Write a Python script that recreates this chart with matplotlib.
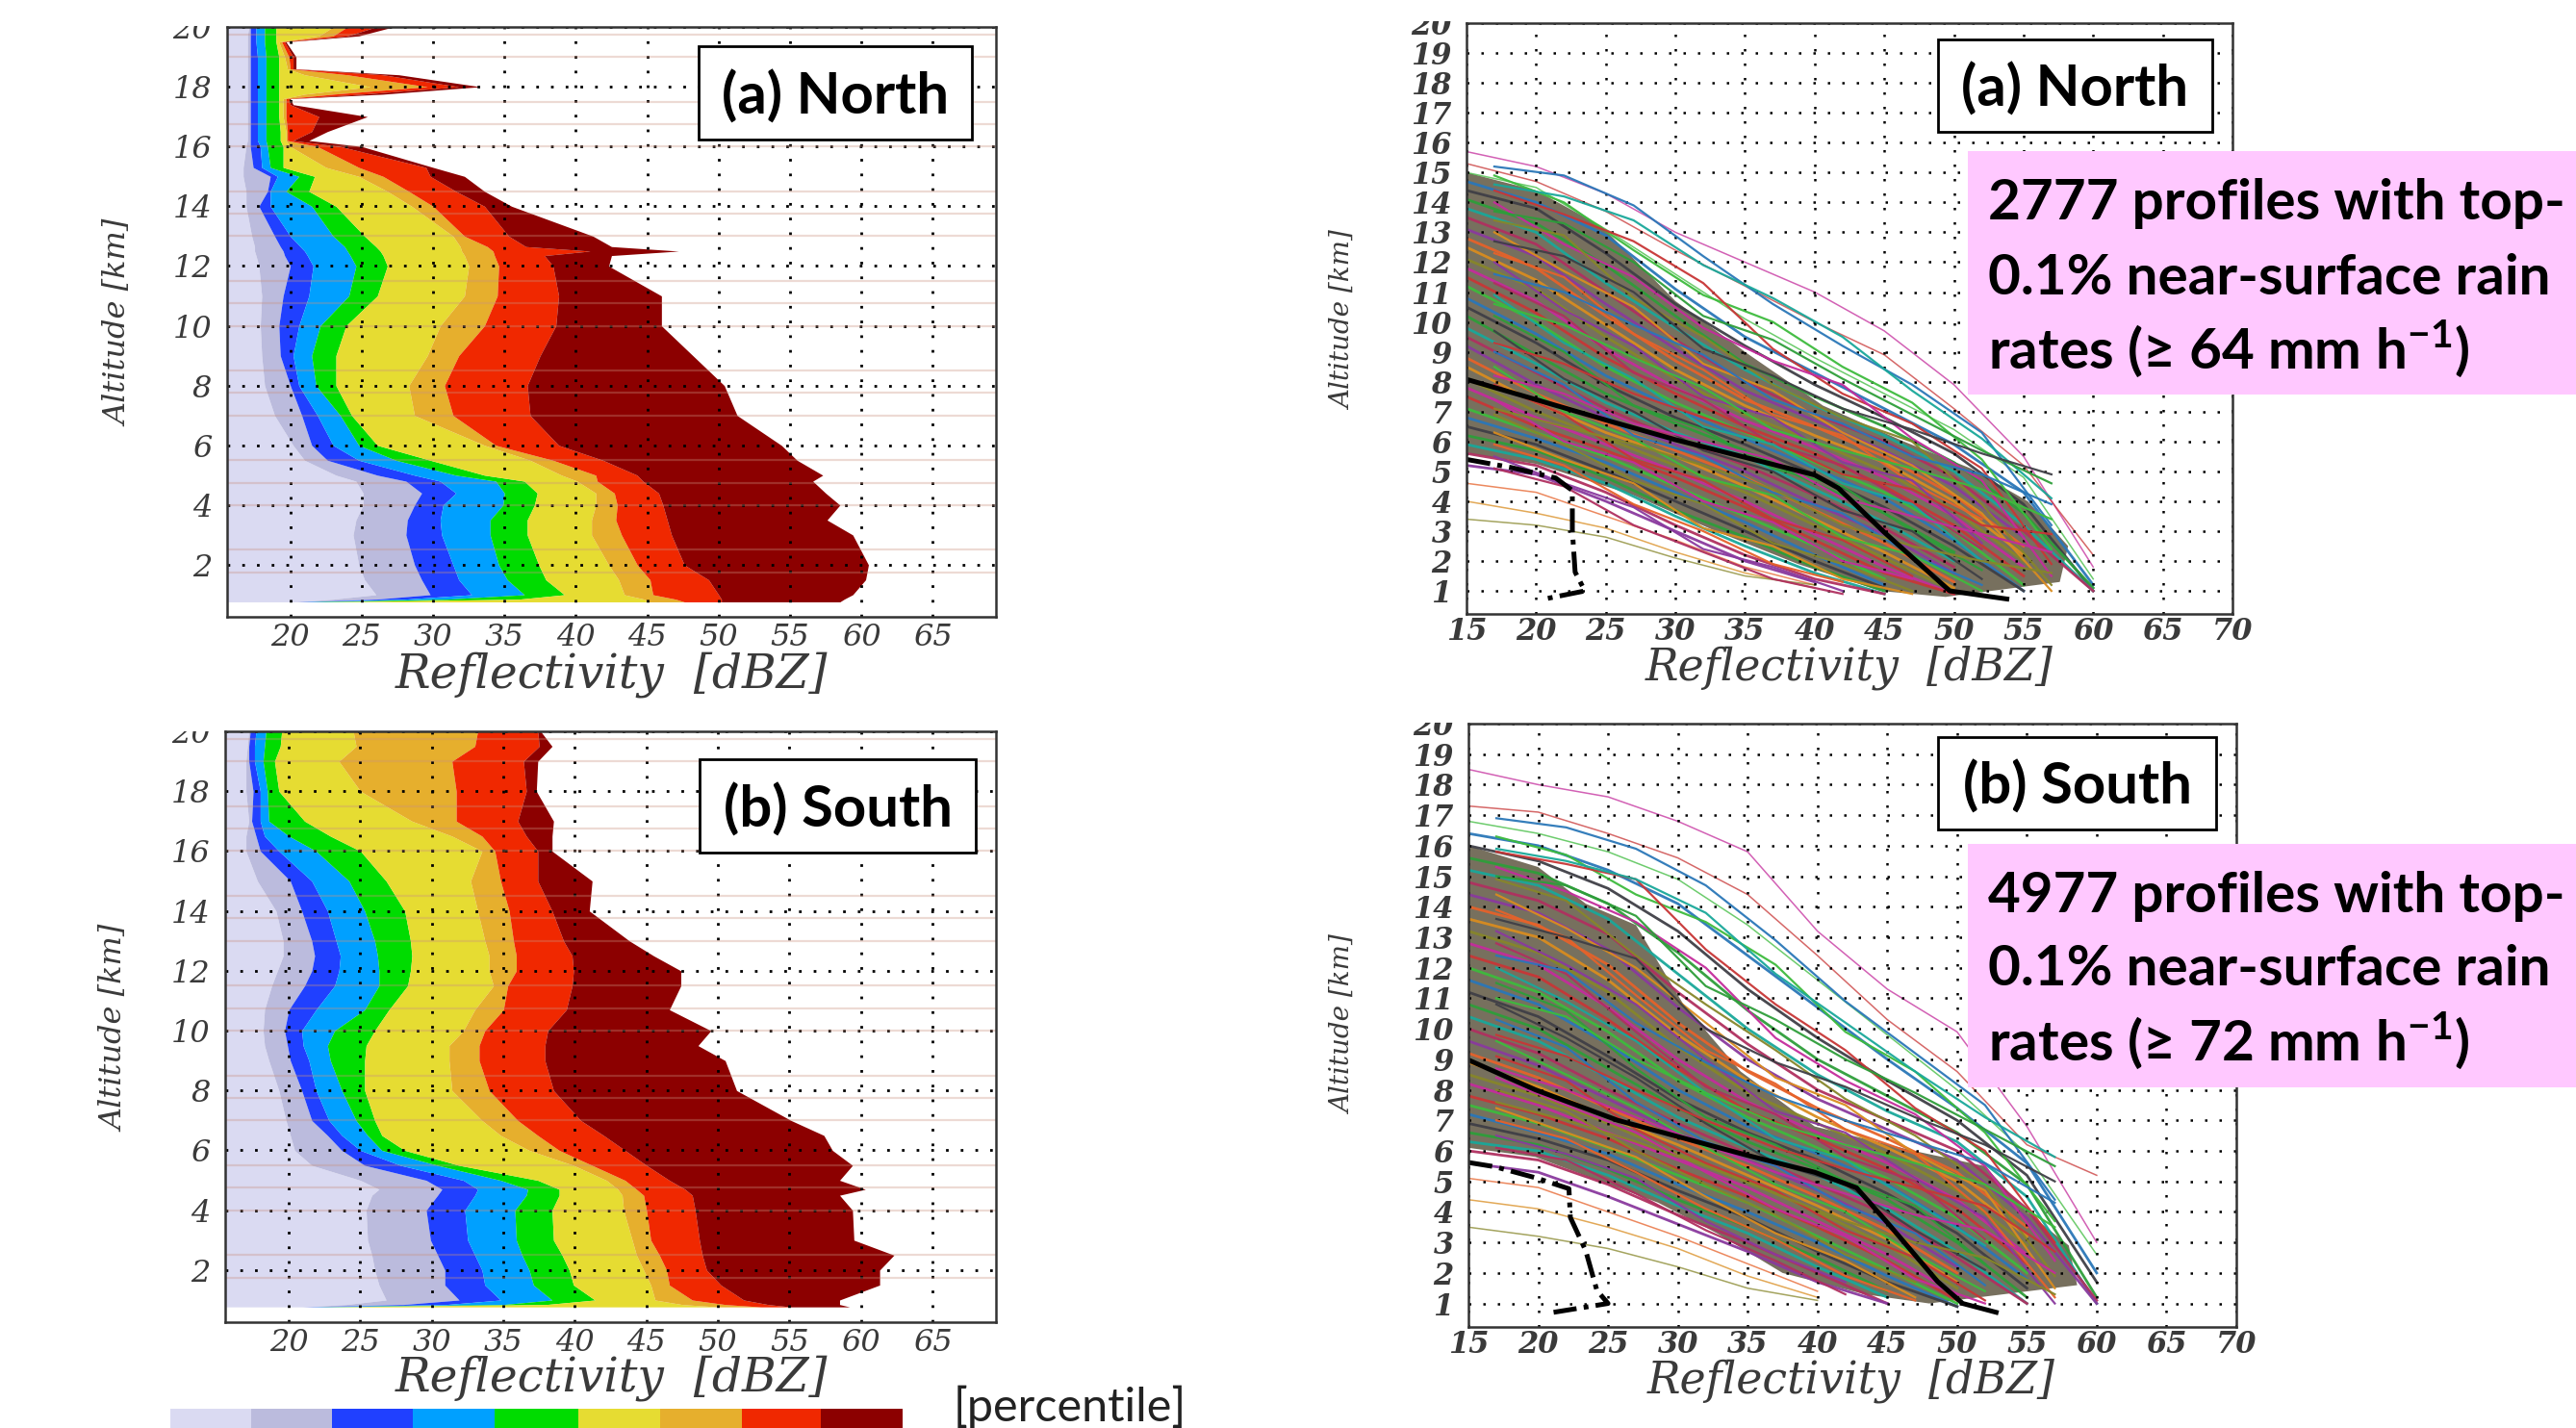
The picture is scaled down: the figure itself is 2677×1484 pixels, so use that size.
import numpy as np
import matplotlib
matplotlib.use("Agg")
import matplotlib.pyplot as plt
from matplotlib.patches import Rectangle

W, H = 2677, 1484
plt.rcParams['mathtext.fontset'] = 'custom'
plt.rcParams['mathtext.bf'] = 'Lato:bold'
plt.rcParams['mathtext.rm'] = 'Lato:bold'

percentile_colors = ['#DADAF2', '#BBBBDD', '#2040FF', '#00A0FF', '#00DC00',
                     '#E6DC32', '#E6AF2D', '#F02800', '#8C0000']

north_alt = [0.76,0.85,1,1.5,2,3,3.5,4,4.4,4.8,5,5.5,6,7,8,9,10,11,12,12.35,12.5,12.65,13,14,14.5,15,15.3,16,16.2,16.5,17,17.4,17.6,17.75,18,18.4,18.6,19,19.5,19.7,20]
north_b1 = [20.3,23,26,25.2,24.8,24.4,24.6,25.1,25.1,24.6,23.2,21,20.2,18.9,18.2,18,17.9,18,17.8,17.6,17.5,17.5,17.3,16.9,16.9,16.7,16.7,16.9,17,17,17,17,17,17,17,17,17,17,17,17,17.1]
north_b2 = [20.5,26,29.8,29.2,28.7,28.1,28.2,28.7,29.2,28.1,26.1,22.6,21.5,20.8,20,19.3,19.2,19.5,20,19.6,19.5,19.3,18.9,17.8,18.4,18.6,17.4,17.2,17.2,17.2,17.2,17.2,17.2,17.2,17.2,17.2,17.2,17.2,17.2,17.2,17.2]
north_b3 = [20.8,28,32.7,31.8,31.4,30.6,30.5,30.7,31.6,30.5,28.7,24.8,23,21.9,20.6,20.2,20.6,21.3,21.6,21.2,21,20.7,20,18.6,18.6,19.1,18,17.9,17.7,17.7,17.7,17.7,17.7,17.7,17.7,17.7,17.7,17.7,17.6,17.6,17.6]
north_b4 = [21.5,31,36.4,35.2,34.6,34,34,34.9,35,34.4,31.6,27.4,24.8,23.5,21.8,21.5,22.1,24.1,24.6,24.2,24,23.8,23,21.5,19.7,20.6,18.6,18.4,18.3,18.3,18.3,18.3,18.3,18.3,18.3,18.3,18.3,18.3,18.2,18.2,18.2]
north_b5 = [22.5,36,39.2,37.9,37.4,36.6,36.6,37.1,37.3,36.4,33.6,29.8,26.1,24.3,23.2,23.2,23.9,26.1,26.8,26.5,26.3,26,25.2,23.2,21.3,21.7,19.5,19.5,19.3,19.3,19.2,19.2,19.2,19.2,19.2,19.2,19.2,19.2,19,19,19]
north_b6 = [45,44.8,43.4,43,42.3,41.1,41.1,41.4,41.4,40.1,39,36.8,33.6,28.7,28.3,29.6,30.5,32.2,32.5,32.2,32,31.9,31.4,28.5,26.8,24.8,22.5,20,19.7,19.7,19.5,19.5,19.5,21,25.6,21,19.8,19.6,19.2,22,23]
north_b7 = [47.6,47,45.4,45.2,44.3,43.2,42.8,42.9,42.7,41.5,41.4,38.4,34.4,31.4,30.8,31.8,33.6,34.5,34.6,34.3,34.2,33.8,32.2,30,28.3,26.5,24.8,21.9,19.8,19.8,19.7,19.7,19.7,23,29.6,24,20,19.9,19.4,23,24]
north_b8 = [50.2,50.2,50,49.3,47.6,46.7,46.4,46.1,45.8,44.7,44.3,41.9,38.8,36.8,36.6,37.5,38.6,38.8,38.4,37.8,41,36.5,35.3,33.6,31.6,29.8,29.5,23.5,20.2,21.5,22,20,19.9,25,31.8,26.5,20.2,20.2,19.6,24,26]
north_b9 = [58.5,58.8,59.4,60.3,60.5,59.4,57.6,58.5,57.5,56.6,57.3,55.5,54.4,51.3,50.4,48.2,46,46,42.3,42.5,47.2,42.5,41.2,35.5,33.6,32.2,30,25,21.3,22.6,25.4,20.2,20,26.5,33.3,27.6,20.4,20.4,19.7,24.8,27.2]

south_alt = [0.77,0.85,1,1.5,2,2.5,3,4,4.5,4.7,5,5.5,6,6.5,7,8,9,9.5,10,10.7,11.5,12,12.5,13,14,15,16,16.5,17,18,19,19.5,20]
south_b1 = [20.9,24,26.8,26.3,26,25.8,25.5,25.4,25.8,26.3,25,21.6,20.4,20.1,19.8,19.3,18.6,18.3,18.2,18.3,18.8,19.2,19.6,19.6,19.1,17.8,17,17,17.2,17,17,17.1,17.2]
south_b2 = [21,28,31.9,30.9,30.9,30.4,29.9,29.6,30.4,30.7,29.6,25.3,23.7,22.7,21.6,20.9,20.1,19.9,19.7,20,21.1,21.6,21.8,21.6,20.9,20.1,18,17.7,17.4,17.5,17.2,17.2,17.3]
south_b3 = [21.4,31,34.8,33.7,33.5,33,32.5,32.3,33,33.2,32.2,27.8,25,23.7,22.8,21.9,21.4,21,20.9,21.9,23.2,23.5,23.6,23.3,22.7,21.6,19.3,18.3,18,18,17.6,17.6,17.7]
south_b4 = [22,35,38.4,37.1,36.8,36.3,35.9,35.8,36.6,36.7,34.8,30.4,26.5,25.5,24.7,23.7,22.9,22.7,23.2,25.3,26.3,26.3,26.2,26,25.3,24.2,21.9,20,18.6,18.5,18.2,18.3,18.4]
south_b5 = [22.5,38,41.4,39.9,39.6,39.1,38.5,38.4,38.9,38.9,37.4,31.9,28.1,26.5,26,25.3,25.3,25.4,26,27,28.3,28.5,28.6,28.5,28.1,26.8,25,22.9,21.1,19.3,19,19.4,19.5]
south_b6 = [50,47.5,45.6,45.3,44.8,44.3,44,43.4,43.3,43,42.2,39.9,36.8,34.8,33.5,31.4,31.2,31.2,32.2,33,34.3,34,34,33.7,33.2,32.7,33.5,31.4,28.6,25,23.5,24.7,24.5]
south_b7 = [53,50.5,48.2,46.6,46.4,45.9,45.3,45,44.8,44.3,43.5,41.2,38.9,37.4,36,34,33.3,33.3,33.7,35,35.3,35.9,35.9,35.7,35.4,34.8,34.4,33.5,31.7,31.7,31.4,33,33.2]
south_b8 = [55.1,53.5,51.8,50.2,49.2,48.9,48.7,48.4,48.2,47.7,46.6,45,43.5,42,40.4,38.5,37.9,37.9,38.1,39.4,39.8,39.9,39.8,39.2,38.4,37.4,37.4,36.6,36,36.6,36.4,37.5,37.4]
south_b9 = [59.2,58.5,58.5,61.3,61.3,62.3,59.5,59.4,58.5,60.3,58.5,59.4,58,57.4,55.1,51.3,50.5,48.6,49.5,46.6,47.4,47.4,45.5,43.8,41,41.2,38.4,38.4,38.5,37.3,37.4,38.4,37.6]

# altitudes of the faint horizontal streaks
streak_alt = [1.75,2.5,4,4.75,5.5,7,7.75,8.5,10,10.75,11.5,13,13.75,14.5,16,16.75,17.5,19,19.75]

profile_dbz = [15,20,25,30,35,40,45,50,55,60]
north_profiles = [
[15.7,15.2,14.3,13.0,12.0,11.0,9.7,7.9,5.5,1.8],
[15.3,14.7,13.7,12.4,11.2,10.0,8.9,7.1,5.2,2.2],
[15.0,14.5,13.1,11.6,10.1,8.8,7.6,6.4,4.8,1.4],
[14.7,14.0,12.9,11.1,9.5,8.3,7.1,5.9,4.3,1.2],
[14.4,13.8,12.3,10.6,9.2,7.9,6.8,5.6,3.9,1.0],
[14.1,13.3,11.9,10.2,8.6,7.5,6.5,5.3,3.6,1.1],
[13.8,13.0,11.3,9.8,8.4,7.2,6.2,5.0,3.2,1.0],
[13.5,12.6,11.0,9.4,8.0,6.9,6.0,4.8,3.0,1.0],
[13.1,12.2,10.6,9.1,7.7,6.7,5.7,4.5,2.8],
[12.8,11.8,10.2,8.7,7.4,6.5,5.5,4.2,2.5],
[12.5,11.4,9.9,8.4,7.2,6.2,5.3,4.0,2.2],
[12.1,11.1,9.5,8.1,6.9,6.0,5.0,3.7,2.0],
[11.8,10.7,9.1,7.8,6.7,5.8,4.8,3.5,1.8],
[11.5,10.3,8.8,7.6,6.5,5.6,4.5,3.2,1.5],
[11.2,10.0,8.5,7.3,6.3,5.3,4.3,3.0,1.2],
[10.8,9.6,8.2,7.1,6.1,5.1,4.1,2.7,1.0],
[10.5,9.3,7.9,6.8,5.9,4.9,3.8,2.5,1.0],
[10.2,8.9,7.6,6.6,5.7,4.6,3.6,2.3],
[9.8,8.6,7.3,6.3,5.5,4.4,3.3,2.0],
[9.5,8.3,7.1,6.1,5.2,4.2,3.1,1.8],
[9.2,7.9,6.8,5.9,5.0,3.9,2.9,1.6],
[8.8,7.6,6.6,5.7,4.8,3.7,2.6,1.3],
[8.5,7.3,6.3,5.5,4.5,3.4,2.3,1.1],
[8.1,7.0,6.1,5.2,4.3,3.2,2.1,1.0],
[7.8,6.8,5.9,5.0,4.0,2.9,1.8,0.9],
[7.5,6.5,5.7,4.8,3.8,2.7,1.6,0.9],
[7.1,6.3,5.5,4.5,3.5,2.5,1.4],
[6.8,6.1,5.3,4.3,3.3,2.2,1.2],
[6.5,5.9,5.0,4.0,3.0,2.0,1.1],
[6.2,5.7,4.8,3.7,2.8,1.8,1.0],
[5.9,5.4,4.6,3.5,2.5,1.6,0.9],
[5.6,5.2,4.3,3.2,2.2,1.4,0.9],
[5.2,4.9,4.0,3.0,2.0,1.3],
[4.6,4.3,3.5,2.7,1.8,1.2],
[4.0,3.6,3.1,2.3,1.6,1.1],
[3.4,3.2,2.8,2.1,1.5,1.2],
]
south_profiles = [
[18.5,18.0,17.6,16.8,15.8,13.2,11.3,9.9,6.8,3.0],
[17.3,17.1,16.4,15.6,14.4,12.4,10.3,8.6,6.2,5.2],
[16.8,16.4,15.8,14.9,13.4,11.6,9.8,8.0,5.9,2.6],
[16.4,16.0,15.2,14.1,12.4,10.7,9.0,7.4,5.6,2.0],
[16.0,15.5,14.6,13.2,11.3,9.7,8.3,7.0,5.2,1.7],
[15.6,15.1,14.1,12.5,10.6,9.0,7.8,6.6,4.9,1.2],
[15.2,14.7,13.6,11.8,10.0,8.5,7.3,6.3,4.5,1.0],
[14.8,14.2,13.1,11.2,9.5,8.0,7.0,6.0,4.1,1.1],
[14.4,13.8,12.6,10.7,9.0,7.7,6.7,5.7,3.8,1.0],
[14.0,13.4,12.1,10.2,8.6,7.4,6.4,5.3,3.5],
[13.6,13.0,11.6,9.8,8.3,7.1,6.1,5.0,3.2],
[13.2,12.5,11.2,9.4,7.9,6.9,5.9,4.7,2.9],
[12.8,12.1,10.7,9.0,7.6,6.6,5.6,4.4,2.6],
[12.4,11.7,10.3,8.7,7.3,6.4,5.4,4.1,2.3],
[12.0,11.2,9.9,8.3,7.1,6.1,5.1,3.8,2.0],
[11.6,10.8,9.5,8.0,6.8,5.9,4.9,3.5,1.8],
[11.2,10.4,9.1,7.7,6.6,5.7,4.6,3.3,1.5],
[10.8,10.0,8.7,7.4,6.3,5.4,4.4,3.0,1.2],
[10.4,9.6,8.4,7.1,6.1,5.2,4.1,2.7,1.0],
[10.0,9.2,8.0,6.9,5.9,4.9,3.9,2.5,1.0],
[9.6,8.8,7.7,6.6,5.7,4.7,3.6,2.2],
[9.2,8.4,7.4,6.4,5.5,4.5,3.4,2.0],
[8.9,8.1,7.1,6.2,5.2,4.2,3.1,1.7],
[8.5,7.8,6.9,5.9,5.0,4.0,2.9,1.5],
[8.2,7.5,6.6,5.7,4.8,3.7,2.6,1.3],
[7.8,7.2,6.4,5.4,4.5,3.5,2.4,1.1],
[7.5,6.9,6.1,5.2,4.3,3.2,2.1,1.0],
[7.2,6.6,5.9,4.9,4.0,3.0,1.9,0.9],
[6.9,6.4,5.7,4.7,3.8,2.7,1.7,0.9],
[6.6,6.2,5.4,4.4,3.5,2.5,1.4],
[6.3,6.0,5.2,4.2,3.3,2.2,1.2],
[6.0,5.7,4.9,3.9,3.0,2.0,1.0],
[5.6,5.3,4.5,3.6,2.7,1.7,1.0],
[5.1,4.8,4.0,3.2,2.3,1.4],
[4.4,4.1,3.5,2.8,1.9,1.2],
[3.5,3.2,2.8,2.2,1.5,1.1],
]
crossing_dbz = [17,22,27,32,37,42,47,52,57]
north_crossing = [
[15.2,14.9,13.9,12.2,10.6,9.2,7.9,6.3,3.2],
[14.9,14.0,12.4,10.9,10.0,8.5,7.3,5.4,2.4],
[14.4,13.6,12.7,11.3,9.1,7.6,6.6,5.1,1.9],
[14.0,12.6,11.5,9.8,8.7,7.9,6.1,4.7,1.5],
[13.4,12.9,10.8,9.5,7.9,6.8,6.0,3.9,1.2],
[13.0,11.7,10.5,8.6,7.7,6.3,5.2,3.6,1.0],
[12.3,11.5,9.6,8.4,6.9,6.2,4.6,3.4],
[12.0,10.4,9.2,7.5,6.8,5.3,4.7,2.6],
[11.3,10.2,8.3,7.4,5.9,5.2,3.9,2.4],
[10.9,9.3,8.1,6.5,5.9,4.6,3.9,2.0],
[10.2,9.0,7.2,6.4,5.1,4.5,3.0,1.7],
[9.7,8.1,7.0,5.7,5.0,3.7,3.0,1.4],
[9.0,7.9,6.2,5.5,4.3,3.6,2.2,1.2],
[8.5,7.0,6.1,4.8,4.2,2.8,2.2,1.0],
[7.9,6.9,5.4,4.7,3.4,2.7,1.5],
[7.4,6.0,5.3,4.0,3.3,2.0,1.4],
[6.9,5.9,4.7,3.9,2.6,1.9,1.0],
[6.3,5.4,4.6,3.1,2.5,1.4,0.9],
[5.9,5.2,3.9,3.0,1.9,1.3],
[5.5,4.6,3.8,2.4,1.8,1.0],
[5.1,4.5,3.2,2.3,1.4,0.9],
[14.6,14.2,13.4,11.9,10.8,9.5,7.7,6.1,4.1],
[13.7,13.3,12.0,10.2,9.4,8.1,6.9,5.7,4.6],
[12.7,12.2,11.0,9.1,8.2,7.1,6.4,5.6,4.9],
[11.6,11.0,9.9,8.9,7.4,6.6,5.5,4.9,3.9],
[10.6,9.9,8.8,7.8,6.4,5.7,5.1,4.4,3.4],
[9.3,8.6,7.6,6.8,6.0,4.9,4.4,3.2,2.9],
[8.2,7.6,6.6,6.0,5.4,4.1,3.5,2.9,2.3],
[7.1,6.5,5.9,5.2,4.4,3.2,2.5,2.0,1.6],
]
south_crossing = [
[16.9,16.6,15.9,14.7,12.9,10.9,9.2,7.5,4.4],
[16.3,15.7,14.4,13.5,12.1,9.9,8.6,6.6,3.7],
[15.8,15.4,14.9,12.6,10.8,9.3,7.4,6.0,3.0],
[15.3,14.5,13.5,12.0,9.7,8.3,7.2,5.5,2.4],
[14.9,14.2,12.4,10.8,9.3,7.7,6.5,4.9,1.9],
[14.4,13.3,12.0,10.2,8.4,7.5,5.9,4.7,1.5],
[13.9,13.0,11.1,9.3,8.2,6.7,5.9,4.0,1.2],
[13.2,12.1,10.8,9.0,7.3,6.6,5.1,3.8,1.0],
[12.8,11.8,9.9,8.1,7.2,5.8,5.0,3.1],
[12.0,10.9,9.6,7.9,6.4,5.7,4.3,2.9],
[11.5,10.6,8.7,7.1,6.2,5.0,4.2,2.3],
[10.8,9.7,8.4,6.9,5.6,4.9,3.4,2.1],
[10.3,9.4,7.6,6.3,5.5,4.2,3.3,1.6],
[9.6,8.5,7.4,6.1,4.9,4.0,2.6,1.4],
[9.1,8.3,6.7,5.6,4.7,3.4,2.5,1.1],
[8.4,7.5,6.6,5.3,4.1,3.2,1.8,1.0],
[8.0,7.3,6.0,4.9,3.9,2.6,1.7],
[7.4,6.6,5.8,4.5,3.3,2.4,1.2],
[7.0,6.4,5.3,4.1,3.1,1.9,1.1],
[6.5,5.9,5.1,3.7,2.6,1.7],
[6.1,5.7,4.6,3.4,2.4,1.3],
[15.9,15.5,14.9,13.8,11.8,10.2,8.6,7.1,5.8],
[15.0,14.7,13.7,11.4,10.3,9.0,7.9,6.7,5.5],
[13.6,13.0,12.3,10.0,8.9,8.1,7.1,6.2,5.0],
[12.4,11.9,10.2,8.9,7.8,7.0,6.3,5.6,4.3],
[11.0,10.4,9.0,7.9,6.9,6.2,5.6,4.9,3.5],
[9.8,9.1,8.0,7.0,6.1,5.4,4.8,4.2,2.7],
[8.7,8.0,7.1,6.2,5.3,4.6,3.9,3.4,2.0],
[7.6,7.0,6.3,5.5,4.6,3.7,3.0,2.5,1.3],
]
profile_colors = ['#c42c9c','#2e9e3a','#d98c1f','#2a77b8','#8a3a9e','#c83636',
                  '#19a89a','#86862a','#3f3f46','#e6622a','#3dbb3d','#b03060']

north_dense_dbz = [15,20,24.7,30,35.3,40.6,46.4,51.2,55.3,58.2,57.6,49.4,44.7,38.8,32.9,27,20,15]
north_dense_alt = [15,14.4,13.2,10.7,8.9,7.2,6,5.1,4,2.5,1.3,0.8,1,1.9,3,4.2,5.25,5.6]
south_dense_dbz = [15,20,23.4,27,30.4,34.5,39.8,46.9,52,55,58,58.6,48,43.4,37.5,32.8,28.6,19.8,15]
south_dense_alt = [16,15.3,14.1,13.4,10.8,8.6,6.8,6,5.5,4,2.9,1.6,1,1.3,2,3.3,4.3,5.8,6.1]

north_mean_dbz = [15,25,30,35,40,41.7,45,49.7,53.8]
north_mean_alt = [8.08,6.72,6.06,5.47,4.88,4.44,2.96,1,0.73]
north_low_dbz = [15,18.2,21.4,22.6,22.6,22.8,23.5,20.5]
north_low_alt = [5.4,5.13,4.78,4.36,3.03,1.63,1,0.72]
south_mean_dbz = [15,19.8,25.7,31.6,35.1,39.8,42.8,45.1,48.6,50.4,52.8]
south_mean_alt = [8.98,8,7,6.27,5.84,5.3,4.79,3.6,1.72,1,0.71]
south_low_dbz = [15,16.9,19.8,22.2,22.3,23.4,24.2,25,21.1]
south_low_alt = [5.62,5.48,5.12,4.76,3.82,2.73,1.43,1,0.71]

left_xticks = list(range(20, 70, 5))
left_yticks = list(range(2, 22, 2))
right_xticks = list(range(15, 75, 5))
right_yticks = list(range(1, 21))

fig = plt.figure(figsize=(W/100, H/100), dpi=100, facecolor='white')
SERIF = dict(family='DejaVu Serif', style='italic', color='#3a3a3a')
SANS = ['Lato', 'DejaVu Sans']

def make_ax(l, r, t, b):
    return fig.add_axes([l/W, 1-b/H, (r-l)/W, (b-t)/H])

def style(ax, xticks, yticks, xlim, ylim, fs, xpad, ypad, weight):
    ax.set_xlim(*xlim); ax.set_ylim(*ylim)
    ax.set_xticks(xticks); ax.set_yticks(yticks)
    ax.tick_params(axis='x', length=0, pad=xpad)
    ax.tick_params(axis='y', length=0, pad=ypad)
    for lab in ax.get_xticklabels() + ax.get_yticklabels():
        lab.set(fontsize=fs, fontweight=weight, **SERIF)
    ax.grid(True, color='black', linestyle=(0, (1, 4.5)), linewidth=2.0, zorder=6)
    ax.set_axisbelow(False)
    for s in ax.spines.values():
        s.set_linewidth(1.8); s.set_color('#333333'); s.set_zorder(7)

def left_panel(l, r, t, b, alt, bounds):
    ax = make_ax(l, r, t, b)
    xlim = (15.55, 69.4)
    edges = [np.full(len(alt), xlim[0])] + [np.array(v, float) for v in bounds]
    for i, c in enumerate(percentile_colors):
        ax.fill_betweenx(alt, edges[i], edges[i+1], color=c, lw=0, zorder=2)
    for y in streak_alt:
        ax.axhline(y, color='#c9917f', alpha=0.33, lw=1.6, zorder=3)
    style(ax, left_xticks, left_yticks, xlim, (0.26, 20), 23, 4, 11, 'normal')
    return ax

def right_panel(l, r, t, b, profiles, crossing, dx, dy, mx, my, lx, ly):
    ax = make_ax(l, r, t, b)
    ax.fill(dx, dy, color='#77705e', lw=0, zorder=1)
    for i, row in enumerate(profiles):
        outer = i < 3 or i >= len(profiles) - 3
        ax.plot(profile_dbz[:len(row)], row, color=profile_colors[(i*5) % len(profile_colors)],
                lw=1.1 if outer else 2.0, alpha=0.75 if outer else 0.95, zorder=2)
    for i, row in enumerate(crossing):
        ax.plot(crossing_dbz[:len(row)], row, color=profile_colors[(i*7+3) % len(profile_colors)],
                lw=1.6, alpha=0.95, zorder=3)
    ax.plot(mx, my, color='black', lw=3.6, zorder=5)
    ax.plot(lx, ly, color='black', lw=3.6, linestyle=(0, (5, 1.5, 1, 1.5)), zorder=5)
    style(ax, right_xticks, right_yticks, (15, 70), (0.23, 20), 22, 2, 11, 'bold')
    ax.grid(True, color='black', linestyle=(0, (1, 5)), linewidth=1.8, zorder=6)
    return ax

left_panel(235.6, 1034.5, 28, 641, north_alt,
           [north_b1,north_b2,north_b3,north_b4,north_b5,north_b6,north_b7,north_b8,north_b9])
left_panel(234, 1034.5, 760, 1374, south_alt,
           [south_b1,south_b2,south_b3,south_b4,south_b5,south_b6,south_b7,south_b8,south_b9])
right_panel(1524, 2320, 24, 638, north_profiles, north_crossing, north_dense_dbz, north_dense_alt,
            north_mean_dbz, north_mean_alt, north_low_dbz, north_low_alt)
right_panel(1526, 2324, 752, 1379, south_profiles, south_crossing, south_dense_dbz, south_dense_alt,
            south_mean_dbz, south_mean_alt, south_low_dbz, south_low_alt)

def ftext(x, y, s, **kw):
    kw.setdefault('ha', 'center'); kw.setdefault('va', 'center')
    return fig.text(x/W, 1-y/H, s, **kw)

# hide the upper part of the "20" labels, cut off in the original
for (x0, x1, y0, y1) in [(150, 233, 0, 27), (150, 232, 745, 760), (1420, 1522, 0, 22), (1420, 1524, 735, 751)]:
    fig.add_artist(Rectangle((x0/W, 1-y1/H), (x1-x0)/W, (y1-y0)/H, transform=fig.transFigure,
                             fc='white', ec='none', zorder=5))

for x, y in [(635, 701), (635, 1432)]:
    ftext(x, y, 'Reflectivity  [dBZ]', fontsize=35, **SERIF)
for x, y in [(1922, 694), (1924, 1435)]:
    ftext(x, y, 'Reflectivity  [dBZ]', fontsize=33, **SERIF)
for x, y in [(124, 336), (120, 1069)]:
    ftext(x, y, 'Altitude [km]', fontsize=23, rotation=90, **SERIF)
for x, y in [(1396, 333), (1396, 1065)]:
    ftext(x, y, 'Altitude [km]', fontsize=20, rotation=90, **SERIF)

def box(x0, x1, y0, y1, fc, ec=None):
    fig.add_artist(Rectangle((x0/W, 1-y1/H), (x1-x0)/W, (y1-y0)/H, transform=fig.transFigure,
                             fc=fc, ec=ec if ec else 'none', lw=2, zorder=10))

for x0, x1, y0, y1, s in [(726, 1010, 48, 145, '(a) North'), (727, 1014, 789, 886, '(b) South'),
                          (2014, 2299, 41, 137, '(a) North'), (2014, 2303, 766, 862, '(b) South')]:
    box(x0, x1, y0, y1, 'white', 'black')
    ftext((x0+x1)/2, (y0+y1)/2+4, s, fontsize=43, fontweight='bold', family=SANS, color='black', zorder=11)

pink_lines = [(157, 410, ['2777 profiles with top-', '0.1% near-surface rain', 'rates (≥ 64 mm h$^{\\mathbf{-1}}$)'], [212, 289, 362]),
              (877, 1130, ['4977 profiles with top-', '0.1% near-surface rain', 'rates (≥ 72 mm h$^{\\mathbf{-1}}$)'], [931, 1008, 1081])]
for y0, y1, lines, ys in pink_lines:
    box(2045, 2677, y0, y1, '#FFC8FF')
    for s, y in zip(lines, ys):
        ftext(2066, y, s, ha='left', fontsize=42, fontweight='bold', family=SANS, color='black', zorder=11)

bar_edges = [177, 261, 345, 429, 514, 601, 686, 771, 853, 938]
for i, c in enumerate(percentile_colors):
    fig.add_artist(Rectangle((bar_edges[i]/W, 0), (bar_edges[i+1]-bar_edges[i])/W, (H-1464)/H,
                             transform=fig.transFigure, fc=c, ec='none', zorder=2))
ftext(1112, 1462, '[percentile]', fontsize=35, family=SANS, color='#222222')

fig.savefig('out.png', dpi=100, facecolor='white')
